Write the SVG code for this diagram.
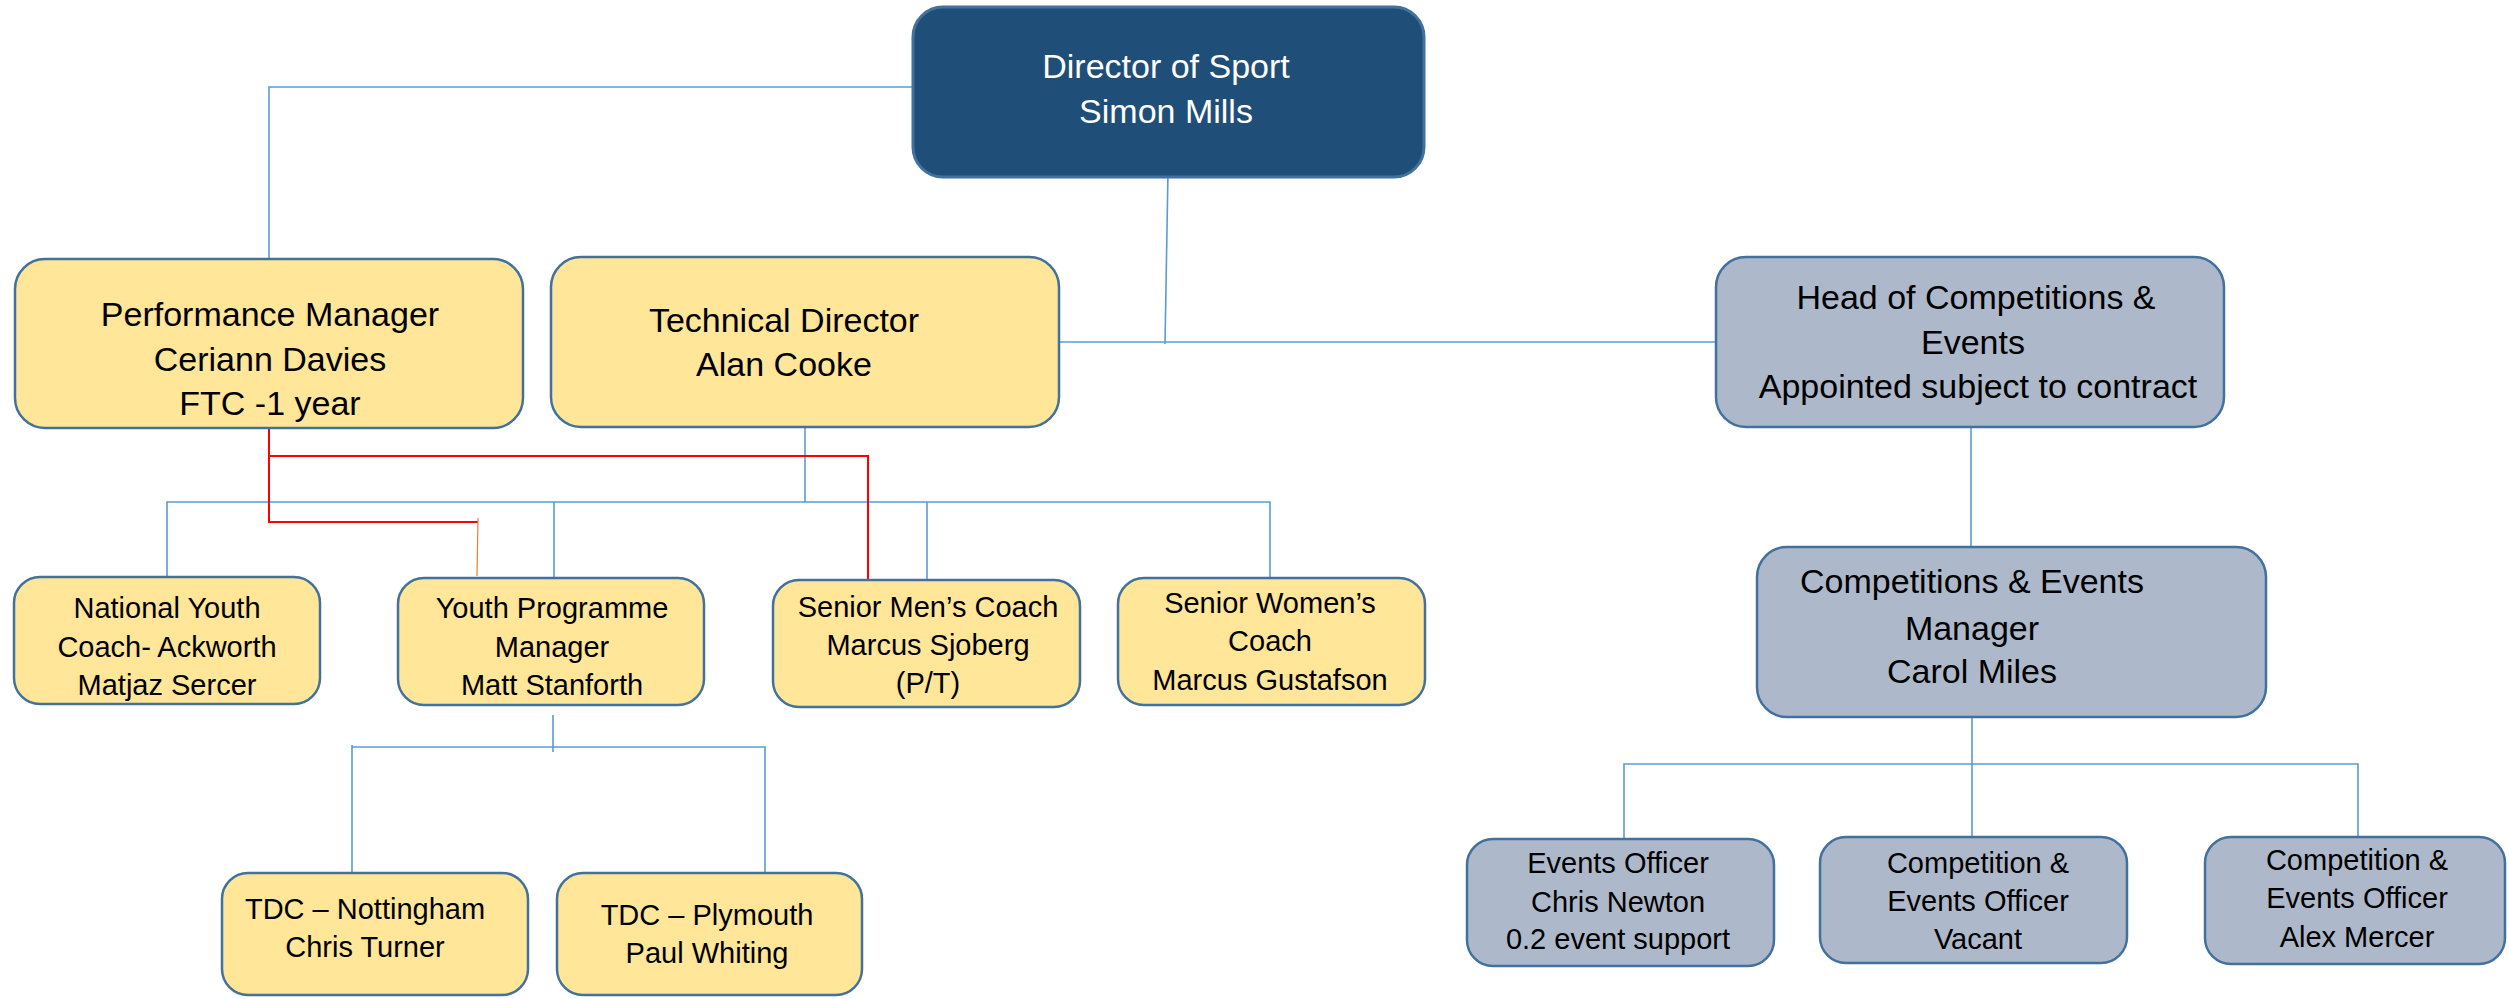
<svg xmlns="http://www.w3.org/2000/svg" width="2509" height="999" viewBox="0 0 2509 999">
<style>
.bg{fill:#ffffff}
.box{stroke:#41719C;stroke-width:2.5}
.dir{fill:#1F4E79;stroke:#41719C;stroke-width:3}
.yel{fill:#FFE699}
.gry{fill:#ADB9CA}
text{font-family:"Liberation Sans",Arial,sans-serif;text-anchor:middle;fill:#000000}
.big{font-size:34px}
.sml{font-size:29px}
.wt{fill:#ffffff}
.cb{fill:none;stroke:#5B9BD5;stroke-width:1.6}
.cr{fill:none;stroke:#FF0000;stroke-width:2}
.co{fill:none;stroke:#ED7D31;stroke-width:1.2}
</style>
<rect class="bg" x="0" y="0" width="2509" height="999"/>
<g id="connectors">
<path class="cb" d="M913,87 H269 V259"/>
<path class="cb" d="M1168,172 L1165,344"/>
<path class="cb" d="M1060,342 H1716"/>
<path class="cb" d="M805,427 V502"/>
<path class="cb" d="M167,577 V502 H1270 V578"/>
<path class="cb" d="M554,502 V578"/>
<path class="cb" d="M927,502 V580"/>
<path class="cb" d="M1971,427 V547"/>
<path class="cb" d="M1972,705 V837"/>
<path class="cb" d="M1624,839 V764 H2358 V837"/>
<path class="cb" d="M553,715 V752"/>
<path class="cb" d="M352,873 V745 M352,747 H765 V873"/>
<path class="cr" d="M269,428 V522 H478"/>
<path class="cr" d="M269,456 H868 V583"/>
<path class="co" d="M478,518 L477,576"/>
</g>
<g id="director">
<rect class="dir" x="913" y="7" width="511" height="170" rx="30"/>
<text class="big wt" x="1166" y="78">Director of Sport</text>
<text class="big wt" x="1166" y="123">Simon Mills</text>
</g>
<g id="performance-manager">
<rect class="box yel" x="15" y="259" width="508" height="169" rx="30"/>
<text class="big" x="270" y="326">Performance Manager</text>
<text class="big" x="270" y="371">Ceriann Davies</text>
<text class="big" x="270" y="415">FTC -1 year</text>
</g>
<g id="technical-director">
<rect class="box yel" x="551" y="257" width="508" height="170" rx="30"/>
<text class="big" x="784" y="332">Technical Director</text>
<text class="big" x="784" y="376">Alan Cooke</text>
</g>
<g id="head-competitions">
<rect class="box gry" x="1716" y="257" width="508" height="170" rx="30"/>
<text class="big" x="1976" y="309">Head of Competitions &amp;</text>
<text class="big" x="1973" y="354">Events</text>
<text class="big" x="1978" y="398">Appointed subject to contract</text>
</g>
<g id="national-youth-coach">
<rect class="box yel" x="14" y="577" width="306" height="127" rx="26"/>
<text class="sml" x="167" y="618">National Youth</text>
<text class="sml" x="167" y="657">Coach- Ackworth</text>
<text class="sml" x="167" y="695">Matjaz Sercer</text>
</g>
<g id="youth-programme-manager">
<rect class="box yel" x="398" y="578" width="306" height="127" rx="26"/>
<text class="sml" x="552" y="618">Youth Programme</text>
<text class="sml" x="552" y="657">Manager</text>
<text class="sml" x="552" y="695">Matt Stanforth</text>
</g>
<g id="senior-mens-coach">
<rect class="box yel" x="773" y="580" width="307" height="127" rx="26"/>
<text class="sml" x="928" y="617">Senior Men’s Coach</text>
<text class="sml" x="928" y="655">Marcus Sjoberg</text>
<text class="sml" x="928" y="693">(P/T)</text>
</g>
<g id="senior-womens-coach">
<rect class="box yel" x="1118" y="578" width="307" height="127" rx="26"/>
<text class="sml" x="1270" y="613">Senior Women’s</text>
<text class="sml" x="1270" y="651">Coach</text>
<text class="sml" x="1270" y="690">Marcus Gustafson</text>
</g>
<g id="competitions-events-manager">
<rect class="box gry" x="1757" y="547" width="509" height="170" rx="30"/>
<text class="big" x="1972" y="593">Competitions &amp; Events</text>
<text class="big" x="1972" y="640">Manager</text>
<text class="big" x="1972" y="683">Carol Miles</text>
</g>
<g id="tdc-nottingham">
<rect class="box yel" x="222" y="873" width="306" height="122" rx="26"/>
<text class="sml" x="365" y="919">TDC – Nottingham</text>
<text class="sml" x="365" y="957">Chris Turner</text>
</g>
<g id="tdc-plymouth">
<rect class="box yel" x="557" y="873" width="305" height="122" rx="26"/>
<text class="sml" x="707" y="925">TDC – Plymouth</text>
<text class="sml" x="707" y="963">Paul Whiting</text>
</g>
<g id="events-officer">
<rect class="box gry" x="1467" y="839" width="307" height="127" rx="26"/>
<text class="sml" x="1618" y="873">Events Officer</text>
<text class="sml" x="1618" y="912">Chris Newton</text>
<text class="sml" x="1618" y="949">0.2 event support</text>
</g>
<g id="comp-events-officer-vacant">
<rect class="box gry" x="1820" y="837" width="307" height="126" rx="26"/>
<text class="sml" x="1978" y="873">Competition &amp;</text>
<text class="sml" x="1978" y="911">Events Officer</text>
<text class="sml" x="1978" y="949">Vacant</text>
</g>
<g id="comp-events-officer-alex">
<rect class="box gry" x="2205" y="837" width="300" height="127" rx="26"/>
<text class="sml" x="2357" y="870">Competition &amp;</text>
<text class="sml" x="2357" y="908">Events Officer</text>
<text class="sml" x="2357" y="947">Alex Mercer</text>
</g>
</svg>
